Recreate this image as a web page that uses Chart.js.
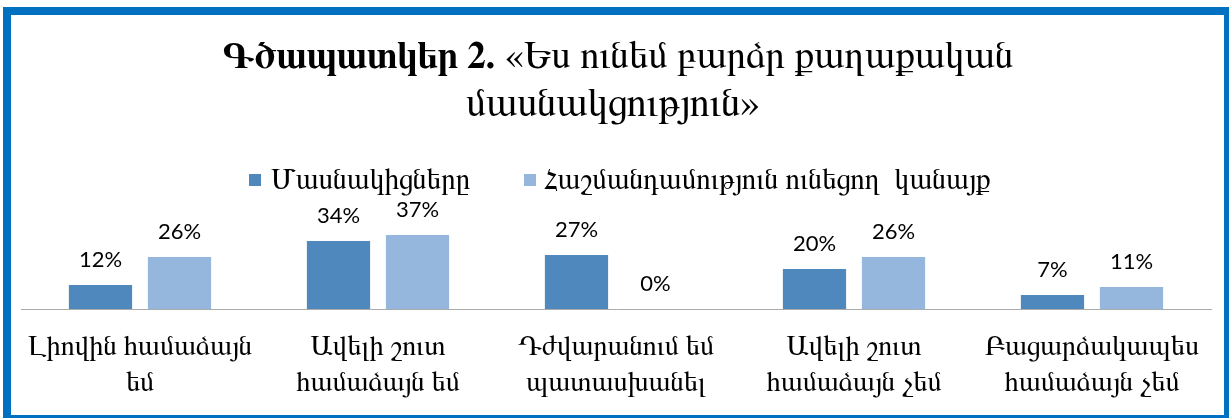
<!DOCTYPE html>
<html><head><meta charset="utf-8">
<script src="https://cdn.jsdelivr.net/npm/chart.js@4"></script>
<style>html,body{margin:0;padding:0;background:#fff;} canvas{display:block}</style>
</head><body><canvas id="c" width="1229" height="418"></canvas>
<script>
const categories = [["Լիովին համաձայն","եմ"],["Ավելի շուտ","համաձայն եմ"],["Դժվարանում եմ","պատասխանել"],["Ավելի շուտ","համաձայն չեմ"],["Բացարձակապես","համաձայն չեմ"]];
const seriesNames = ["Մասնակիցները","Հաշմանդամություն ունեցող  կանայք"];
const participants = [12, 34, 27, 20, 7];
const womenWithDisabilities = [26, 37, 0, 26, 11];
const titleBold = "Գծապատկեր 2.";
const titleRest = " «Ես ունեմ բարձր քաղաքական";
const titleLine2 = "մասնակցություն»";
const colors = ["#4F88BD", "#95B7DE"];

const ARM = "FreeSerif, 'DejaVu Serif', serif";

const framePlugin = {
  id: 'frame',
  afterDraw(chart) {
    const ctx = chart.ctx;
    ctx.save();
    ctx.strokeStyle = '#0070C0';
    ctx.lineWidth = 8;
    ctx.strokeRect(7, 11, 1221, 408);
    ctx.restore();
  }
};

const titlePlugin = {
  id: 'armTitle',
  afterDraw(chart) {
    const ctx = chart.ctx;
    ctx.save();
    ctx.fillStyle = '#000';
    ctx.textBaseline = 'alphabetic';
    ctx.textAlign = 'left';
    ctx.font = 'bold 37px ' + ARM;
    const wb = ctx.measureText(titleBold).width;
    ctx.font = '38.5px ' + ARM;
    const wr = ctx.measureText(titleRest).width;
    const x = 618 - (wb + wr) / 2;
    ctx.font = 'bold 37px ' + ARM;
    ctx.fillText(titleBold, x, 68);
    ctx.font = '38.5px ' + ARM;
    ctx.fillText(titleRest, x + wb, 68);
    ctx.textAlign = 'center';
    ctx.font = '40px ' + ARM;
    ctx.fillText(titleLine2, 613, 116);
    ctx.restore();
  }
};

const legendPlugin = {
  id: 'armLegend',
  afterDraw(chart) {
    const ctx = chart.ctx;
    ctx.save();
    ctx.font = '29px ' + ARM;
    ctx.textBaseline = 'alphabetic';
    ctx.textAlign = 'left';
    const items = [{mx: 249, tx: 271}, {mx: 524, tx: 544}];
    items.forEach((it, i) => {
      ctx.fillStyle = colors[i];
      ctx.fillRect(it.mx, 174, 12, 12);
      ctx.fillStyle = '#000';
      ctx.fillText(seriesNames[i], it.tx, 189);
    });
    ctx.restore();
  }
};

const labelPlugin = {
  id: 'valLabels',
  afterDatasetsDraw(chart) {
    const ctx = chart.ctx;
    ctx.save();
    ctx.font = "22px Lato, 'Open Sans', sans-serif";
    ctx.fillStyle = '#000';
    ctx.textAlign = 'center';
    ctx.textBaseline = 'alphabetic';
    chart.data.datasets.forEach((ds, i) => {
      chart.getDatasetMeta(i).data.forEach((bar, j) => {
        ctx.fillText(ds.data[j] + '%', bar.x, bar.y - 18);
      });
    });
    ctx.restore();
  }
};

new Chart(document.getElementById('c'), {
  type: 'bar',
  data: {
    labels: categories,
    datasets: [
      { label: seriesNames[0], data: participants, backgroundColor: colors[0], categoryPercentage: 0.664, barPercentage: 0.8 },
      { label: seriesNames[1], data: womenWithDisabilities, backgroundColor: colors[1], categoryPercentage: 0.664, barPercentage: 0.8 }
    ]
  },
  options: {
    responsive: false,
    animation: false,
    devicePixelRatio: 1,
    layout: { padding: { left: 21, right: 18, top: 219, bottom: 0 } },
    plugins: { legend: { display: false }, title: { display: false }, tooltip: { enabled: false } },
    scales: {
      x: {
        grid: { display: false, drawTicks: false },
        border: { display: true, color: '#ABABAB', width: 1 },
        ticks: { color: '#000', font: { family: ARM, size: 28, lineHeight: 1.28 }, padding: 20, maxRotation: 0, autoSkip: false },
        afterFit(axis) { axis.height = 109; }
      },
      y: { display: false, min: 0, max: 45 }
    }
  },
  plugins: [labelPlugin, titlePlugin, legendPlugin, framePlugin]
});
</script>
</body></html>
